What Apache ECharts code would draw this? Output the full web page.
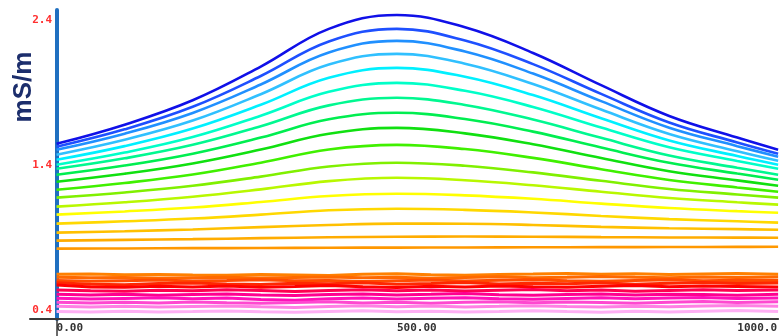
<!DOCTYPE html>
<html>
<head>
<meta charset="utf-8">
<script src="https://cdn.jsdelivr.net/npm/echarts@6/dist/echarts.min.js"></script>
<style>html,body{margin:0;padding:0;background:#fff}#c{width:780px;height:336px}</style>
</head>
<body>
<div id="c"></div>
<script>
// ---- data ----
const xSmooth = [0, 100, 200, 300, 400, 500, 600, 700, 800, 900, 1000, 1060];
const xNoisy = [0,50,100,150,200,250,300,350,400,450,500,550,600,650,700,750,800,850,900,950,1000,1060];
const yTickValues = [0.4, 1.4, 2.4];
const xTickValues = [0, 500, 1000];
const yAxisName = 'mS/m';

const s01 = [1.547,1.679,1.847,2.079,2.339,2.435,2.350,2.173,1.951,1.739,1.590,1.506];
const s02 = [1.527,1.647,1.802,2.014,2.252,2.339,2.259,2.096,1.891,1.694,1.556,1.478];
const s03 = [1.506,1.617,1.760,1.956,2.176,2.256,2.183,2.031,1.841,1.658,1.531,1.458];
const s04 = [1.472,1.575,1.707,1.889,2.093,2.167,2.099,1.959,1.783,1.615,1.496,1.430];
const s05 = [1.437,1.531,1.652,1.816,2.002,2.070,2.009,1.883,1.723,1.570,1.463,1.403];
const s06 = [1.403,1.487,1.594,1.741,1.905,1.967,1.912,1.801,1.659,1.523,1.429,1.375];
const s07 = [1.375,1.447,1.540,1.668,1.812,1.864,1.815,1.714,1.588,1.467,1.382,1.334];
const s08 = [1.334,1.397,1.479,1.590,1.716,1.761,1.718,1.631,1.521,1.416,1.342,1.300];
const s09 = [1.286,1.341,1.412,1.508,1.616,1.657,1.619,1.544,1.449,1.358,1.295,1.258];
const s10 = [1.231,1.277,1.335,1.417,1.508,1.540,1.511,1.450,1.372,1.298,1.246,1.217];
const s11 = [1.176,1.212,1.258,1.321,1.391,1.417,1.396,1.350,1.292,1.236,1.198,1.176];
const s12 = [1.114,1.144,1.182,1.233,1.290,1.313,1.296,1.261,1.217,1.174,1.144,1.128];
const s13 = [1.059,1.081,1.108,1.146,1.187,1.203,1.192,1.168,1.135,1.105,1.083,1.072];
const s14 = [0.997,1.013,1.032,1.059,1.089,1.100,1.092,1.074,1.050,1.028,1.013,1.004];
const s15 = [0.935,0.945,0.957,0.973,0.988,0.997,0.996,0.988,0.975,0.965,0.959,0.955];
const s16 = [0.880,0.885,0.890,0.897,0.903,0.907,0.908,0.907,0.904,0.902,0.901,0.900];
const s17 = [0.825,0.826,0.828,0.829,0.831,0.832,0.833,0.834,0.835,0.836,0.837,0.838];
const smoothSeries = [s01,s02,s03,s04,s05,s06,s07,s08,s09,s10,s11,s12,s13,s14,s15,s16,s17];
const smoothColors = ['#1010e8','#1e50ff','#2090ff','#30c0ff','#00f0ff','#00ffc8','#00f890','#00ee50','#10e010','#40f000','#80f000','#b8f800','#ffff00','#ffd800','#ffc000','#ffac00','#ff9800'];

const n01 = [0.648,0.650,0.645,0.647,0.643,0.641,0.646,0.644,0.640,0.648,0.652,0.645,0.642,0.647,0.650,0.654,0.648,0.651,0.646,0.650,0.653,0.649];
const n02 = [0.628,0.624,0.626,0.621,0.625,0.628,0.622,0.626,0.630,0.624,0.627,0.620,0.626,0.631,0.625,0.628,0.633,0.627,0.624,0.629,0.626,0.630];
const n03 = [0.606,0.600,0.604,0.608,0.601,0.605,0.610,0.603,0.606,0.599,0.604,0.609,0.602,0.607,0.611,0.604,0.600,0.606,0.610,0.603,0.607,0.605];
const n04 = [0.590,0.580,0.576,0.584,0.588,0.582,0.578,0.586,0.583,0.590,0.579,0.585,0.592,0.581,0.587,0.583,0.589,0.580,0.586,0.591,0.584,0.588];
const n05 = [0.575,0.560,0.558,0.565,0.561,0.567,0.559,0.564,0.570,0.562,0.557,0.566,0.561,0.568,0.563,0.559,0.566,0.571,0.562,0.567,0.564,0.560];
const n06 = [0.540,0.535,0.532,0.538,0.534,0.541,0.536,0.530,0.537,0.542,0.534,0.539,0.533,0.538,0.543,0.535,0.540,0.532,0.537,0.541,0.536,0.539];
const n07 = [0.510,0.506,0.511,0.504,0.509,0.513,0.505,0.502,0.508,0.512,0.506,0.510,0.515,0.507,0.503,0.509,0.513,0.506,0.511,0.508,0.504,0.510];
const n08 = [0.483,0.478,0.482,0.486,0.479,0.484,0.474,0.470,0.480,0.485,0.478,0.483,0.487,0.480,0.476,0.482,0.486,0.479,0.484,0.488,0.481,0.485];
const n09 = [0.455,0.450,0.456,0.451,0.457,0.452,0.448,0.454,0.458,0.451,0.456,0.449,0.455,0.459,0.452,0.457,0.453,0.449,0.455,0.460,0.454,0.458];
const n10 = [0.427,0.423,0.428,0.422,0.426,0.430,0.424,0.420,0.426,0.431,0.425,0.429,0.423,0.427,0.432,0.426,0.422,0.428,0.424,0.429,0.433,0.427];
const n11 = [0.392,0.389,0.393,0.388,0.391,0.395,0.390,0.386,0.392,0.396,0.390,0.394,0.388,0.392,0.397,0.391,0.387,0.393,0.389,0.394,0.398,0.392];
const noisySeries = [n01,n02,n03,n04,n05,n06,n07,n08,n09,n10,n11];
const noisyColors = ['#ff8000','#ff6800','#ff4c00','#ff2800','#ff0000','#ff0050','#ff0090','#ff10b8','#ff48d0','#ff80e4','#ffb0f4'];

// ---- chart ----
const chart = echarts.init(document.getElementById('c'), null, {renderer: 'canvas'});
const series = [];
smoothSeries.forEach((arr, i) => {
  series.push({
    type: 'line', smooth: 0.4, symbol: 'none', silent: true,
    data: arr.map((v, j) => [xSmooth[j], v]),
    lineStyle: {color: smoothColors[i], width: 2.6}
  });
});
noisySeries.forEach((arr, i) => {
  series.push({
    type: 'line', smooth: false, symbol: 'none', silent: true,
    data: arr.map((v, j) => [xNoisy[j], v]),
    lineStyle: {color: noisyColors[i], width: 3}
  });
});

chart.setOption({
  animation: false,
  backgroundColor: '#ffffff',
  grid: {left: 30, right: 0, top: 10, bottom: 17, containLabel: false},
  xAxis: {
    type: 'value', min: -39, max: 1060,
    splitLine: {show: false},
    axisLine: {show: true, lineStyle: {color: '#3a3a3a', width: 2}},
    axisTick: {show: true, customValues: [0], length: 17, lineStyle: {color: '#3a3a3a', width: 1.5}},
    axisLabel: {
      customValues: xTickValues, align: 'left', margin: 4,
      fontFamily: 'DejaVu Sans Mono', fontWeight: 'bold', fontSize: 11, color: '#333',
      formatter: v => { const s = Number(v).toFixed(2); return s.length > 6 ? s.slice(0, 6) : s; }
    }
  },
  yAxis: {
    type: 'value', min: 0.34, max: 2.469,
    splitLine: {show: false},
    axisLine: {show: true, onZero: true, lineStyle: {color: '#1f6fc0', width: 4}},
    axisTick: {show: false},
    axisLabel: {
      customValues: yTickValues, margin: -22,
      fontFamily: 'DejaVu Sans Mono', fontWeight: 'bold', fontSize: 11, color: '#ff3030',
      formatter: v => Number(v).toFixed(1)
    }
  },
  graphic: [{
    type: 'text', x: 24, y: 87, rotation: Math.PI / 2,
    style: {text: yAxisName, fill: '#1c2e6c', font: 'bold 26px "Liberation Sans", Arial, sans-serif', textAlign: 'center', textVerticalAlign: 'middle'}
  }],
  series: series
});
</script>
</body>
</html>
